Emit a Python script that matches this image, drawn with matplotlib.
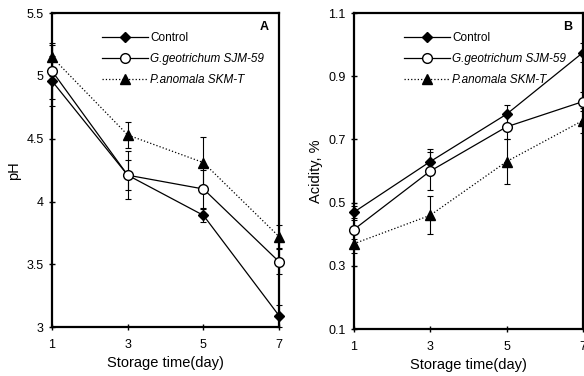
import matplotlib.pyplot as plt

plt.rcParams['font.family'] = ['Liberation Sans', 'DejaVu Sans']

days = [1, 3, 5, 7]
series_names = ["Control", "G.geotrichum SJM-59", "P.anomala SKM-T"]

# panel A: pH
ph_control = [4.96, 4.21, 3.89, 3.09]
ph_control_err = [0.20, 0.19, 0.05, 0.09]
ph_geo = [5.04, 4.21, 4.10, 3.52]
ph_geo_err = [0.22, 0.12, 0.15, 0.10]
ph_anom = [5.15, 4.53, 4.31, 3.72]
ph_anom_err = [0.10, 0.10, 0.20, 0.09]

# panel B: acidity
ac_control = [0.47, 0.63, 0.78, 0.975]
ac_control_err = [0.02, 0.04, 0.03, 0.03]
ac_geo = [0.415, 0.60, 0.74, 0.82]
ac_geo_err = [0.03, 0.06, 0.04, 0.03]
ac_anom = [0.37, 0.46, 0.63, 0.76]
ac_anom_err = [0.03, 0.06, 0.07, 0.04]

styles = [
    dict(marker='D', ms=5, mfc='black', mec='black', ls='-'),
    dict(marker='o', ms=7, mfc='white', mec='black', ls='-'),
    dict(marker='^', ms=6.5, mfc='black', mec='black', ls=':'),
]

fig = plt.figure(figsize=(5.84, 3.76), dpi=100)
axA = fig.add_axes([0.089, 0.130, 0.389, 0.835])
axB = fig.add_axes([0.606, 0.125, 0.392, 0.840])


def draw_panel(ax, vals, errs, ylim, yticks, ylabel, letter):
    lines = []
    for v, e, st in zip(vals, errs, styles):
        h = ax.errorbar(days, v, yerr=e, color='black', lw=0.9, capsize=2.5,
                        elinewidth=0.8, capthick=0.8, zorder=3, **st)
        h[0].set_clip_on(False)
        for c in h[1]:
            c.set_clip_on(False)
        for b in h[2]:
            b.set_clip_on(False)
        lines.append(h[0])
    ax.set_xlim(1, 7)
    ax.set_ylim(*ylim)
    ax.set_xticks(days)
    ax.set_yticks(yticks)
    ax.set_yticklabels([f"{t:g}" for t in yticks])
    ax.tick_params(direction='inout', length=5, width=1, labelsize=9)
    ax.tick_params(axis='x', pad=6)
    for s in ax.spines.values():
        s.set_linewidth(1.6)
    ax.set_xlabel("Storage time(day)", fontsize=10.5, labelpad=4)
    ax.set_ylabel(ylabel, fontsize=10.5, labelpad=4)
    ax.text(0.955, 0.975, letter, transform=ax.transAxes, fontsize=9,
            fontweight='bold', ha='right', va='top')
    leg = ax.legend(lines, series_names, loc='upper left',
                    bbox_to_anchor=(0.2, 0.955), frameon=False, fontsize=8.5,
                    handlelength=3.9, handletextpad=0.15, labelspacing=0.75,
                    borderaxespad=0)
    for t in leg.get_texts()[1:]:
        t.set_fontstyle('italic')


draw_panel(axA, [ph_control, ph_geo, ph_anom],
           [ph_control_err, ph_geo_err, ph_anom_err],
           (3, 5.5), [3, 3.5, 4, 4.5, 5, 5.5], "pH", "A")
draw_panel(axB, [ac_control, ac_geo, ac_anom],
           [ac_control_err, ac_geo_err, ac_anom_err],
           (0.1, 1.1), [0.1, 0.3, 0.5, 0.7, 0.9, 1.1], "Acidity, %", "B")

fig.savefig("out.png", dpi=100)
